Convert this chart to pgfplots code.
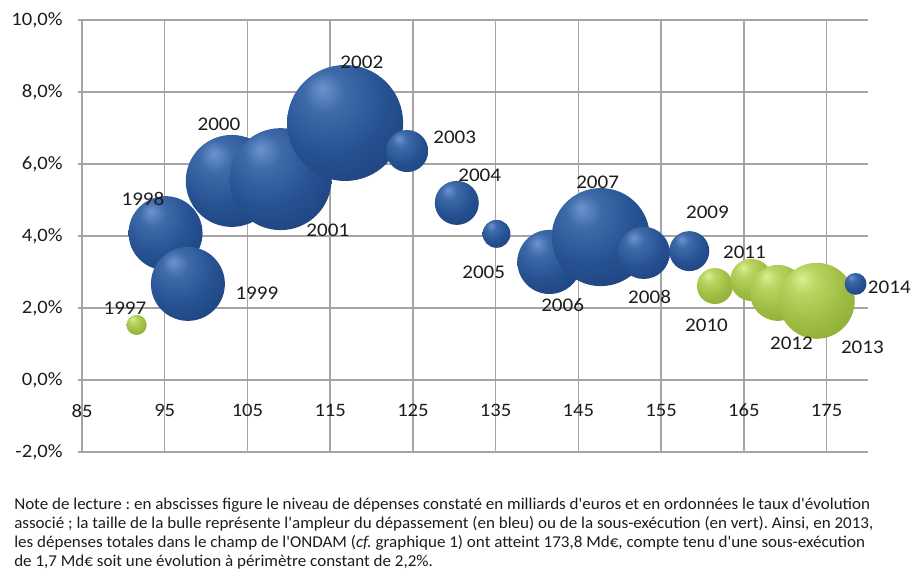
\documentclass[border=0pt]{standalone}
\usepackage{fontspec}
\setmainfont{Carlito}[FakeStretch=1.09]
\newfontfamily\notefont{Carlito}[FakeStretch=1.03]
\usepackage{pgfplots}
\usepackage{pgfplotstable}
\pgfplotsset{compat=1.18}

\definecolor{gridgray}{RGB}{165,165,165}
\definecolor{txt}{RGB}{28,28,28}
\definecolor{bhi}{RGB}{108,148,206}
\definecolor{bmid}{RGB}{62,106,170}
\definecolor{bbase}{RGB}{38,81,146}
\definecolor{bedge}{RGB}{28,62,118}
\definecolor{bdark}{RGB}{16,38,82}
\definecolor{ghi}{RGB}{218,240,145}
\definecolor{gmid}{RGB}{186,213,98}
\definecolor{gbase}{RGB}{160,190,68}
\definecolor{gedge}{RGB}{135,164,48}
\definecolor{gdark}{RGB}{100,128,30}

\pgfdeclareradialshading{bblue}{\pgfpoint{-10bp}{15bp}}{color(0bp)=(bhi); color(9bp)=(bmid); color(24bp)=(bbase); color(44bp)=(bedge); color(60bp)=(bdark); color(80bp)=(bdark)}
\pgfdeclareradialshading{bgreen}{\pgfpoint{-10bp}{15bp}}{color(0bp)=(ghi); color(9bp)=(gmid); color(24bp)=(gbase); color(44bp)=(gedge); color(60bp)=(gdark); color(80bp)=(gdark)}
\pgfdeclareplotmark{nothing}{}

\pgfplotstableread{
year x y s g
1997 91.6 1.53 0.12 1
1998 95.1 4.08 1.61 0
1999 97.8 2.67 1.61 0
2000 103.1 5.53 2.49 0
2001 109.0 5.58 3.06 0
2002 116.8 7.14 3.96 0
2003 124.3 6.36 0.52 0
2004 130.3 4.92 0.57 0
2005 135.1 4.06 0.23 0
2006 141.5 3.28 1.21 0
2007 147.7 3.97 2.83 0
2008 152.9 3.53 0.80 0
2009 158.4 3.58 0.47 0
2010 161.5 2.61 0.38 1
2011 165.9 2.78 0.52 1
2012 169.1 2.42 0.92 1
2013 173.8 2.20 1.70 1
2014 178.5 2.67 0.14 0
}\bubbles

% label positions (data units)
\pgfplotstableread{
lx ly year
90.19 2.00 1997
92.37 5.03 1998
106.14 2.42 1999
101.55 7.11 2000
114.71 4.17 2001
118.82 8.83 2002
130.05 6.75 2003
133.07 5.69 2004
133.55 3.00 2005
143.09 2.08 2006
147.32 5.50 2007
153.60 2.31 2008
160.60 4.67 2009
160.48 1.53 2010
165.07 3.56 2011
170.75 1.03 2012
179.32 0.92 2013
182.58 2.58 2014
}\labels

\begin{document}
\frenchspacing
\begin{tikzpicture}[
  lbl/.style={font=\fontsize{14.5}{16}\selectfont, text=txt, inner sep=0pt, anchor=center},
  note/.style={font=\notefont\fontsize{12.4}{14.6}\selectfont, text=txt, inner sep=0pt, anchor=base west}]
\path[use as bounding box] (-61.5pt,-87.75pt) rectangle (625.5pt,339pt);
\begin{axis}[
  at={(0pt,0pt)}, anchor=south west,
  scale only axis, width=589.5pt, height=324pt,
  xmin=85, xmax=180, ymin=-2, ymax=10,
  xtick={85,95,105,115,125,135,145,155,165,175},
  ytick={-2,0,2,4,6,8,10},
  xticklabels={85,95,105,115,125,135,145,155,165,175},
  yticklabels={{-2,0\%},{0,0\%},{2,0\%},{4,0\%},{6,0\%},{8,0\%},{10,0\%}},
  axis line style={draw=none},
  grid=major, grid style={gridgray, line width=1.1pt},
  xtick style={draw=none}, ytick style={gridgray, line width=1.1pt},
  tick align=outside, major tick length=3pt,
  xtick pos=bottom, ytick pos=left,
  tick label style={font=\fontsize{14.2}{16}\selectfont, text=txt},
  yticklabel style={xshift=-8pt},
  xticklabel style={anchor=center, yshift=34pt},
  clip=false,
]
\addplot[scatter, only marks, mark=nothing,
  visualization depends on={21.86*sqrt(\thisrow{s}) \as \rad},
  visualization depends on={\thisrow{g} \as \isg},
  scatter/@pre marker code/.code={%
    \pgfpathcircle{\pgfpointorigin}{\rad pt}%
    \ifdim\isg pt>0.5pt \pgfshadepath{bgreen}{0}\else\pgfshadepath{bblue}{0}\fi
    \pgfusepath{discard}},
  scatter/@post marker code/.code={},
] table[x=x,y=y] {\bubbles};

\addplot[only marks, mark=nothing, point meta=explicit symbolic,
  nodes near coords, nodes near coords align={center},
  every node near coord/.style={lbl}]
  table[x=lx, y=ly, meta=year] {\labels};
\end{axis}
\node[note] at (-51pt,-43.3pt) {Note de lecture : en abscisses figure le niveau de dépenses constaté en milliards d'euros et en ordonnées le taux d'évolution};
\node[note] at (-51pt,-57.4pt) {associé ; la taille de la bulle représente l'ampleur du dépassement (en bleu) ou de la sous-exécution (en vert). Ainsi, en 2013,};
\node[note] at (-51pt,-71.4pt) {les dépenses totales dans le champ de l'ONDAM (\textit{cf.} graphique 1) ont atteint 173,8 Md€, compte tenu d'une sous-exécution};
\node[note] at (-51pt,-85.5pt) {de 1,7 Md€ soit une évolution à périmètre constant de 2,2\%.};
\end{tikzpicture}
\end{document}
